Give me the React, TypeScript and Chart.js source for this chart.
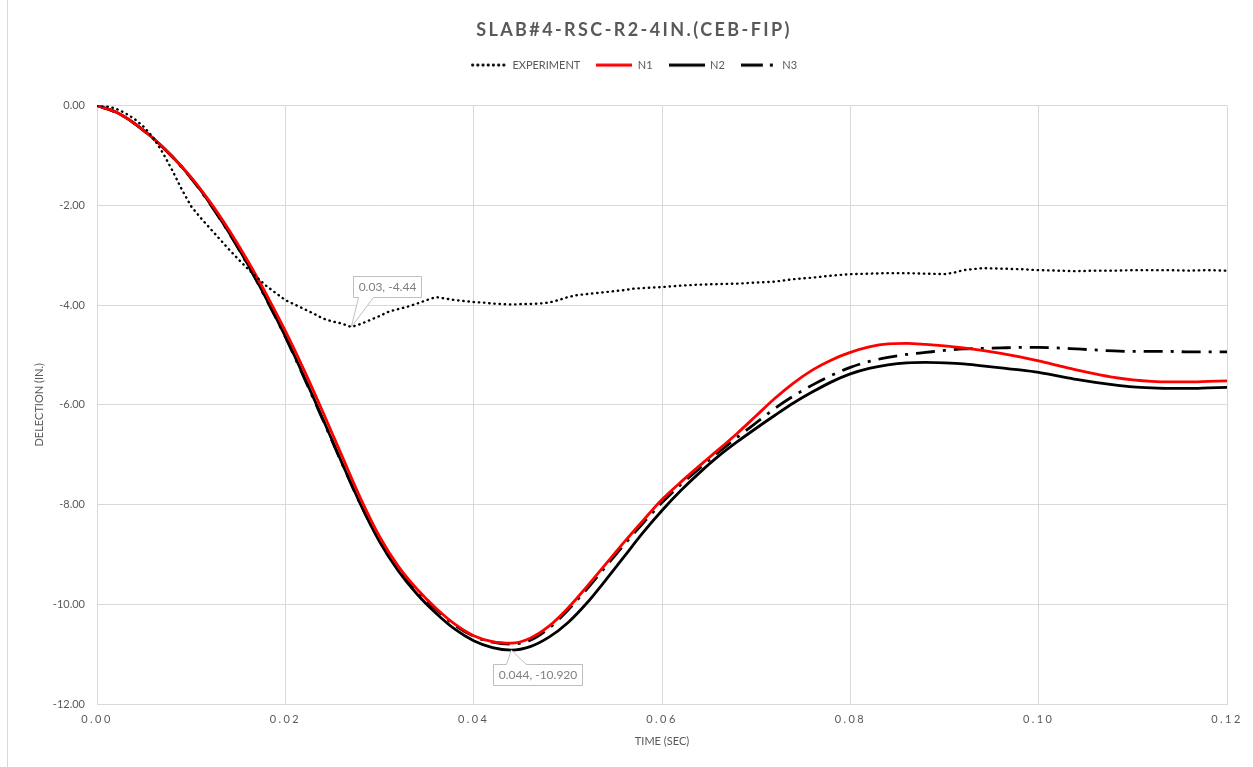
import React, { useEffect, useRef } from "react";
import { Chart, registerables } from "chart.js";

Chart.register(...registerables);

// ---------- text ----------
const TITLE = "SLAB#4-RSC-R2-4IN.(CEB-FIP)";
const X_TITLE = "TIME (SEC)";
const Y_TITLE = "DELECTION (IN.)";
const SERIES_NAMES = ["EXPERIMENT", "N1", "N2", "N3"];

// ---------- axes ----------
const X_MIN = 0;
const X_MAX = 0.12;
const X_STEP = 0.02;
const Y_MIN = -12;
const Y_MAX = 0;
const Y_STEP = 2;

// ---------- experiment ----------
const EXP_TIME = [
  0, 0.001, 0.002, 0.003, 0.004, 0.005, 0.006, 0.007, 0.008, 0.009,
  0.01, 0.011, 0.012, 0.013, 0.014, 0.015, 0.016, 0.017, 0.018, 0.019,
  0.02, 0.021, 0.022, 0.023, 0.024, 0.025, 0.026, 0.027, 0.028, 0.029,
  0.03, 0.031, 0.032, 0.033, 0.034, 0.035, 0.036, 0.037, 0.038, 0.039,
  0.04, 0.041, 0.042, 0.043, 0.044, 0.045, 0.046, 0.047, 0.048, 0.049,
  0.05, 0.051, 0.052, 0.053, 0.054, 0.055, 0.056, 0.057, 0.058, 0.059,
  0.06, 0.062, 0.064, 0.066, 0.068, 0.07, 0.072, 0.074, 0.076, 0.078,
  0.08, 0.082, 0.084, 0.086, 0.088, 0.09, 0.091, 0.092, 0.094, 0.096,
  0.098, 0.1, 0.102, 0.104, 0.106, 0.108, 0.11, 0.112, 0.114, 0.116,
  0.118, 0.12,
];
const EXP_DEFL = [
  0, -0.01, -0.06, -0.15, -0.27, -0.43, -0.65, -0.95, -1.3, -1.68,
  -2.02, -2.25, -2.46, -2.67, -2.88, -3.08, -3.27, -3.45, -3.62, -3.76,
  -3.9, -3.99, -4.08, -4.17, -4.27, -4.33, -4.37, -4.44, -4.38, -4.3,
  -4.22, -4.13, -4.08, -4.03, -3.97, -3.9, -3.84, -3.87, -3.9, -3.92,
  -3.94, -3.95, -3.97, -3.98, -3.99, -3.98, -3.98, -3.97, -3.95, -3.9,
  -3.84, -3.8, -3.78, -3.76, -3.74, -3.72, -3.7, -3.67, -3.66, -3.65,
  -3.64, -3.61, -3.59, -3.58, -3.57, -3.55, -3.53, -3.48, -3.45, -3.41,
  -3.38, -3.37, -3.36, -3.36, -3.37, -3.38, -3.35, -3.3, -3.26, -3.27,
  -3.28, -3.3, -3.31, -3.32, -3.31, -3.31, -3.3, -3.3, -3.3, -3.31,
  -3.3, -3.31,
];

// ---------- numerical models ----------
const NUM_TIME = [
  0, 0.002, 0.004, 0.006, 0.008, 0.01, 0.012, 0.014, 0.016, 0.018,
  0.02, 0.022, 0.024, 0.026, 0.028, 0.03, 0.032, 0.034, 0.036, 0.038,
  0.04, 0.042, 0.044, 0.046, 0.048, 0.05, 0.052, 0.054, 0.056, 0.058,
  0.06, 0.062, 0.064, 0.066, 0.068, 0.07, 0.072, 0.074, 0.076, 0.078,
  0.08, 0.082, 0.084, 0.086, 0.088, 0.09, 0.092, 0.094, 0.096, 0.098,
  0.1, 0.102, 0.104, 0.106, 0.108, 0.11, 0.112, 0.114, 0.116, 0.118,
  0.12,
];
const N1_DEFL = [
  0, -0.13, -0.36, -0.66, -1.02, -1.44, -1.93, -2.49, -3.11, -3.79,
  -4.52, -5.31, -6.15, -7.02, -7.88, -8.64, -9.24, -9.7, -10.08, -10.4,
  -10.63, -10.75, -10.78, -10.68, -10.44, -10.08, -9.65, -9.2, -8.75, -8.32,
  -7.9, -7.55, -7.22, -6.9, -6.57, -6.22, -5.87, -5.56, -5.3, -5.1,
  -4.95, -4.84, -4.78, -4.77, -4.79, -4.82, -4.86, -4.91, -4.97, -5.04,
  -5.12, -5.21, -5.3, -5.38, -5.45, -5.5, -5.53, -5.54, -5.54, -5.53,
  -5.52,
];
const N2_DEFL = [
  0, -0.13, -0.36, -0.66, -1.02, -1.45, -1.96, -2.54, -3.18, -3.88,
  -4.63, -5.44, -6.29, -7.16, -8.0, -8.74, -9.33, -9.8, -10.18, -10.5,
  -10.73, -10.87, -10.92, -10.85, -10.66, -10.37, -9.98, -9.52, -9.04, -8.56,
  -8.12, -7.72, -7.36, -7.03, -6.74, -6.47, -6.21, -5.96, -5.74, -5.54,
  -5.38, -5.27, -5.2, -5.16, -5.15, -5.16, -5.18, -5.22, -5.26, -5.3,
  -5.35, -5.42, -5.49, -5.55, -5.6, -5.64, -5.66, -5.67, -5.67, -5.66,
  -5.65,
];
const N3_DEFL = [
  0, -0.13, -0.36, -0.67, -1.03, -1.46, -1.97, -2.55, -3.19, -3.89,
  -4.64, -5.46, -6.31, -7.17, -8.0, -8.72, -9.29, -9.74, -10.1, -10.42,
  -10.64, -10.76, -10.8, -10.72, -10.48, -10.12, -9.7, -9.25, -8.8, -8.37,
  -7.96, -7.6, -7.27, -6.95, -6.65, -6.36, -6.07, -5.82, -5.6, -5.41,
  -5.25, -5.13, -5.05, -4.99, -4.95, -4.91, -4.88, -4.87, -4.86, -4.85,
  -4.85, -4.86, -4.88, -4.9, -4.92, -4.93, -4.93, -4.93, -4.94, -4.94,
  -4.94,
];

// ---------- data callouts (series index, time of labelled point, decimals) ----------
const CALLOUT_SERIES = [0, 2];
const CALLOUT_TIME = [0.027, 0.044];
const CALLOUT_DIGITS = [2, 3];

// ---------- styles / layout ----------
const FONT = "Lato, 'Noto Sans', sans-serif";
const TEXT_COLOR = "#595959";
const GRID_COLOR = "#d9d9d9";
const LINE_W = 2.8;
const DOT_DASH = [0.4, 4.8];
const DASH_DOT = [19, 8, 3, 8];
const CALLOUT_STYLE = [
  { dx: 36, dy: -41, b1: 5, b2: 20 },
  { dx: 26, dy: 24, b1: 13, b2: 33 },
];

const toPoints = (xs: number[], ys: number[]) => xs.map((x, i) => ({ x, y: ys[i] }));

// small canvas used as legend sample so dash patterns show in the legend
function makeSample(color: string, dash: number[], cap: CanvasLineCap) {
  const c = document.createElement("canvas");
  c.width = 36;
  c.height = 6;
  const g = c.getContext("2d")!;
  g.strokeStyle = color;
  g.lineWidth = LINE_W;
  g.lineCap = cap;
  g.setLineDash(dash);
  g.beginPath();
  g.moveTo(cap === "round" ? 1.5 : 0, 3);
  g.lineTo(36, 3);
  g.stroke();
  return c;
}

const patchPlugin = {
  id: "patches",
  beforeLayout(chart: any) {
    const lg = chart.legend;
    if (lg && !lg.__p) {
      const f = lg.fit.bind(lg);
      lg.fit = function () {
        f();
        this.height += 25;
      };
      lg.__p = true;
    }
    const tb = chart.titleBlock;
    if (tb && !tb.__p) {
      const d = tb.draw.bind(tb);
      tb.draw = function () {
        const ctx = chart.ctx;
        ctx.save();
        ctx.letterSpacing = "2.4px";
        d();
        ctx.restore();
      };
      tb.__p = true;
    }
    const xs = chart.scales && chart.scales.x;
    if (xs && !xs.__p) {
      const dl = xs.drawLabels.bind(xs);
      xs.drawLabels = function (area: any) {
        const ctx = chart.ctx;
        ctx.save();
        ctx.letterSpacing = "2.4px";
        dl(area);
        ctx.restore();
      };
      xs.__p = true;
    }
  },
};

const calloutPlugin = {
  id: "callouts",
  afterDatasetsDraw(chart: any) {
    const ctx = chart.ctx;
    const xs = chart.scales.x;
    const ys = chart.scales.y;
    CALLOUT_SERIES.forEach((si, k) => {
      const data = chart.data.datasets[si].data as { x: number; y: number }[];
      const pt = data.find((p) => Math.abs(p.x - CALLOUT_TIME[k]) < 1e-9);
      if (!pt) return;
      const st = CALLOUT_STYLE[k];
      const px = xs.getPixelForValue(pt.x);
      const py = ys.getPixelForValue(pt.y);
      const text = `${pt.x.toFixed(CALLOUT_DIGITS[k])}, ${pt.y.toFixed(CALLOUT_DIGITS[k])}`;
      ctx.save();
      ctx.font = `12px ${FONT}`;
      const w = Math.round(ctx.measureText(text).width + 10);
      const h = 21;
      const cx = px + st.dx;
      const cy = py + st.dy;
      const l = Math.round(cx - w / 2) + 0.5;
      const r = l + w;
      const t = Math.round(cy - h / 2) + 0.5;
      const b = t + h;
      ctx.beginPath();
      if (st.dy < 0) {
        ctx.moveTo(l, t);
        ctx.lineTo(r, t);
        ctx.lineTo(r, b);
        ctx.lineTo(l + st.b2, b);
        ctx.lineTo(px, py);
        ctx.lineTo(l + st.b1, b);
        ctx.lineTo(l, b);
      } else {
        ctx.moveTo(l, t);
        ctx.lineTo(l + st.b1, t);
        ctx.lineTo(px, py);
        ctx.lineTo(l + st.b2, t);
        ctx.lineTo(r, t);
        ctx.lineTo(r, b);
        ctx.lineTo(l, b);
      }
      ctx.closePath();
      ctx.fillStyle = "#ffffff";
      ctx.fill();
      ctx.strokeStyle = "#bfbfbf";
      ctx.lineWidth = 1;
      ctx.stroke();
      ctx.fillStyle = "#7f7f7f";
      ctx.textAlign = "center";
      ctx.textBaseline = "middle";
      ctx.fillText(text, (l + r) / 2, (t + b) / 2 + 0.5);
      ctx.restore();
    });
  },
};

export default function App() {
  const ref = useRef<HTMLCanvasElement | null>(null);

  useEffect(() => {
    if (!ref.current) return;
    const chart = new Chart(ref.current, {
      type: "line",
      data: {
        datasets: [
          {
            label: SERIES_NAMES[0],
            data: toPoints(EXP_TIME, EXP_DEFL),
            borderColor: "#000000",
            backgroundColor: "#000000",
            borderWidth: 2.4,
            borderDash: DOT_DASH,
            borderCapStyle: "round",
            pointRadius: 0,
            pointStyle: makeSample("#000000", DOT_DASH, "round"),
            tension: 0,
          },
          {
            label: SERIES_NAMES[1],
            data: toPoints(NUM_TIME, N1_DEFL),
            borderColor: "#ff0000",
            backgroundColor: "#ff0000",
            borderWidth: LINE_W,
            pointRadius: 0,
            pointStyle: makeSample("#ff0000", [], "butt"),
            cubicInterpolationMode: "monotone",
          },
          {
            label: SERIES_NAMES[2],
            data: toPoints(NUM_TIME, N2_DEFL),
            borderColor: "#000000",
            backgroundColor: "#000000",
            borderWidth: LINE_W,
            pointRadius: 0,
            pointStyle: makeSample("#000000", [], "butt"),
            cubicInterpolationMode: "monotone",
          },
          {
            label: SERIES_NAMES[3],
            data: toPoints(NUM_TIME, N3_DEFL),
            borderColor: "#000000",
            backgroundColor: "#000000",
            borderWidth: LINE_W,
            borderDash: DASH_DOT,
            pointRadius: 0,
            pointStyle: makeSample("#000000", [22, 7, 3, 8], "butt"),
            cubicInterpolationMode: "monotone",
          },
        ] as any,
      },
      options: {
        animation: false,
        responsive: false,
        maintainAspectRatio: false,
        events: [],
        layout: { padding: { left: 41, right: 26, top: 0, bottom: 0 } },
        plugins: {
          tooltip: { enabled: false },
          title: {
            display: true,
            text: TITLE,
            color: TEXT_COLOR,
            font: { family: FONT, size: 18, weight: "bold" },
            padding: { top: 19, bottom: 3 },
          },
          legend: {
            display: true,
            position: "top",
            labels: {
              color: TEXT_COLOR,
              font: { family: FONT, size: 11 },
              usePointStyle: true,
              pointStyleWidth: 36,
              padding: 16,
            },
          },
        },
        scales: {
          x: {
            type: "linear",
            min: X_MIN,
            max: X_MAX,
            ticks: {
              stepSize: X_STEP,
              color: TEXT_COLOR,
              font: { family: FONT, size: 11 },
              padding: 9,
              maxRotation: 0,
              callback: (v: any) => Number(v).toFixed(2),
            },
            grid: { color: GRID_COLOR, drawTicks: false, lineWidth: 1 },
            border: { color: GRID_COLOR },
            title: {
              display: true,
              text: X_TITLE,
              color: TEXT_COLOR,
              font: { family: FONT, size: 11 },
              padding: { top: 0, bottom: 19 },
            },
            afterFit: (s: any) => {
              s.height = 63;
            },
          },
          y: {
            type: "linear",
            min: Y_MIN,
            max: Y_MAX,
            ticks: {
              stepSize: Y_STEP,
              color: TEXT_COLOR,
              font: { family: FONT, size: 11 },
              padding: 12,
              callback: (v: any) => Number(v).toFixed(2),
            },
            grid: { color: GRID_COLOR, drawTicks: false, lineWidth: 1 },
            border: { color: GRID_COLOR },
            title: {
              display: true,
              text: Y_TITLE,
              color: TEXT_COLOR,
              font: { family: FONT, size: 11 },
              padding: { top: -8.6, bottom: 0 },
            },
            afterFit: (s: any) => {
              s.width = 56;
            },
          },
        },
      },
      plugins: [patchPlugin, calloutPlugin],
    });
    return () => chart.destroy();
  }, []);

  return (
    <div
      style={{
        position: "fixed",
        left: 0,
        top: 0,
        width: 1253,
        height: 767,
        background: "#ffffff",
        overflow: "hidden",
      }}
    >
      <div
        style={{
          position: "absolute",
          left: 7,
          top: 0,
          bottom: 0,
          borderLeft: "1px solid #d9d9d9",
        }}
      />
      <canvas ref={ref} width={1253} height={767} style={{ position: "absolute", left: 0, top: 0 }} />
    </div>
  );
}
